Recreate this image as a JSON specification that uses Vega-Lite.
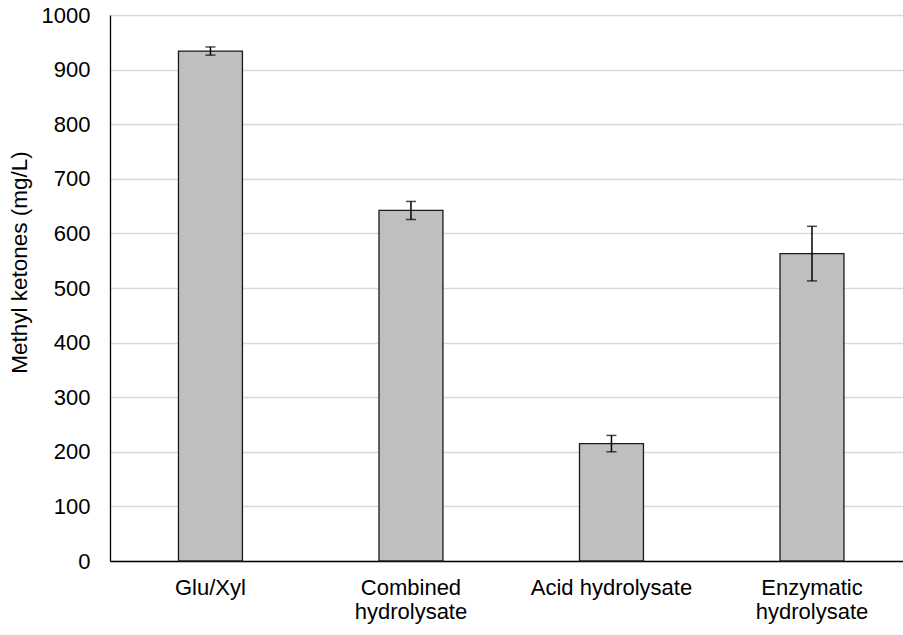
{
  "$schema": "https://vega.github.io/schema/vega-lite/v6.json",
  "autosize": {"type": "none"},
  "width": 793,
  "height": 546,
  "padding": {"left": 110, "top": 15, "right": 0, "bottom": 74},
  "background": "white",
  "config": {
    "view": {"stroke": null},
    "font": "Liberation Sans",
    "axis": {"labelFont": "Liberation Sans", "titleFont": "Liberation Sans", "labelColor": "#000000", "titleColor": "#000000"}
  },
  "data": {
    "values": [
      {"sample": "Glu/Xyl", "mean": 934, "sd": 7.5},
      {"sample": "Combined hydrolysate", "mean": 642, "sd": 16.5},
      {"sample": "Acid hydrolysate", "mean": 215, "sd": 15},
      {"sample": "Enzymatic hydrolysate", "mean": 563, "sd": 50}
    ]
  },
  "encoding": {
    "x": {
      "field": "sample",
      "type": "nominal",
      "sort": null,
      "scale": {"paddingInner": 0.681, "paddingOuter": 0.318, "align": 0.537},
      "axis": {
        "title": null,
        "labelAngle": 0,
        "labelFontSize": 22,
        "labelPadding": 16,
        "labelLineHeight": 24,
        "labelBaseline": "top",
        "ticks": false,
        "domainColor": "#000000",
        "domainWidth": 1.3,
        "grid": false,
        "labelExpr": "datum.label == 'Acid hydrolysate' ? datum.label : split(datum.label, ' ')"
      }
    }
  },
  "layer": [
    {
      "mark": {"type": "bar", "fill": "#bfbfbf", "stroke": "#1a1a1a", "strokeWidth": 1.3},
      "encoding": {
        "y": {
          "field": "mean",
          "type": "quantitative",
          "title": "Methyl ketones (mg/L)",
          "scale": {"domain": [0, 1000], "nice": false},
          "axis": {
            "title": "Methyl ketones (mg/L)",
            "format": "d",
            "titleFontSize": 22.5,
            "titleFontWeight": "normal",
            "titleAngle": -90,
            "titleX": -84,
            "titleY": 247,
            "titleAlign": "center",
            "titleBaseline": "alphabetic",
            "values": [0, 100, 200, 300, 400, 500, 600, 700, 800, 900, 1000],
            "labelFontSize": 22,
            "labelPadding": 20,
            "ticks": false,
            "domainColor": "#000000",
            "domainWidth": 1.3,
            "gridColor": "#d9d9d9",
            "gridWidth": 1.3
          }
        }
      }
    },
    {
      "mark": {
        "type": "errorbar",
        "ticks": {"size": 10, "thickness": 1.5, "color": "#000000"},
        "rule": {"strokeWidth": 1.5, "color": "#000000"}
      },
      "encoding": {
        "y": {"field": "mean", "type": "quantitative", "title": "Methyl ketones (mg/L)"},
        "yError": {"field": "sd"}
      }
    }
  ]
}
